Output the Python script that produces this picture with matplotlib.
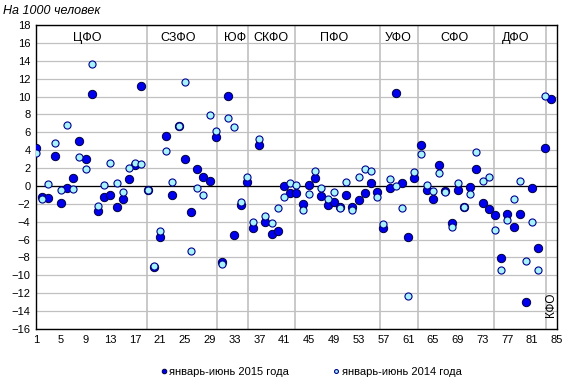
import matplotlib
matplotlib.use("Agg")
import matplotlib.pyplot as plt
import numpy as np

# 2015 (dark) and 2014 (light) values per region, index 1..85
jan_jun_2015 = [
    4.26, -1.2, -1.4, 3.34, -1.92, -0.22, 0.87, 5.0, 2.97, 10.33,
    -2.75, -1.27, -1.03, -2.38, -1.49, 0.78, 2.3, 11.22, -0.4, -9.05,
    -5.72, 5.64, -1.05, 6.72, 2.96, -2.94, 1.86, 0.98, 0.6, 5.42,
    -8.5, 10.07, -5.52, -2.12, 0.45, -4.72, 4.6, -3.98, -5.4, -5.02,
    -0.04, -0.82, -0.82, -2.03, 0.1, 0.85, -1.15, -2.12, -1.75, -2.4,
    -1.03, -2.4, -1.53, -0.82, 0.3, -0.73, -4.75, -0.18, 10.44, 0.38,
    -5.72, 0.85, 4.55, -0.4, -1.47, 2.3, -0.6, -4.09, -0.47, -2.33,
    -0.08, 1.89, -1.9, -2.61, -3.26, -8.07, -3.15, -4.61, -3.15, -12.95,
    -0.27, -6.95, 4.2, 9.75, np.nan,
]
jan_jun_2014 = [
    3.7, -1.45, 0.23, 4.8, -0.45, 6.8, -0.34, 3.27, 1.93, 13.62,
    -2.22, 0.12, 2.59, 0.36, -0.66, 2.04, 2.6, 2.47, -0.46, -8.92,
    -5.0, 3.93, 0.44, 6.74, 11.63, -7.23, -0.2, -0.97, 7.93, 6.16,
    -8.68, 7.6, 6.61, -1.76, 1.03, -3.98, 5.27, -3.32, -4.2, -2.42,
    -1.2, 0.36, 0.16, -2.65, -0.88, 1.68, -0.18, -1.42, -0.64, -2.42,
    0.44, -2.65, 1.03, 1.89, 1.72, -1.2, -4.22, 0.77, -0.06, -2.42,
    -12.35, 1.57, 3.57, 0.12, -0.53, 1.46, -0.64, -4.62, 0.36, -2.33,
    -0.9, 3.8, 0.6, 1.05, -4.89, -9.4, -3.8, -1.45, 0.55, -8.4,
    -4.07, -9.4, 10.07, np.nan, np.nan,
]
region_no = np.arange(1, len(jan_jun_2015) + 1)

district_names = ["ЦФО", "СЗФО", "ЮФ", "СКФО", "ПФО", "УФО", "СФО", "ДФО"]
district_label_x = [9.2, 23.9, 33.1, 38.8, 49.0, 59.3, 68.4, 78.4]
district_borders = [18.9, 30.2, 35.2, 42.7, 56.5, 62.6, 74.8, 83.3]

plt.rcParams['font.family'] = ['Liberation Sans', 'DejaVu Sans']

fig = plt.figure(figsize=(5.65, 3.87), dpi=100)
ax = fig.add_axes([36 / 565, 1 - 329 / 387, 521 / 565, 304 / 387])

ax.set_xlim(1, 85)
ax.set_ylim(-16, 18)
ax.set_xticks(range(1, 86, 4))
ax.set_yticks(range(-16, 19, 2))
ax.tick_params(length=0, labelsize=8, pad=4)
for s in ax.spines.values():
    s.set_color('black')
    s.set_linewidth(1.0)

ax.yaxis.grid(True, color='#c0c0c0', linewidth=0.9)
ax.set_axisbelow(True)
ax.axhline(0, color='black', linewidth=0.9, zorder=1)
for b in district_borders:
    ax.axvline(b, color='#c0c0c0', linewidth=1.2, zorder=0.5)

ax.plot(region_no, jan_jun_2015, linestyle='none', marker='o', markersize=6.0,
        markerfacecolor='#0000ee', markeredgecolor='#000040', markeredgewidth=0.7,
        zorder=3, label='январь-июнь 2015 года')
ax.plot(region_no, jan_jun_2014, linestyle='none', marker='o', markersize=5.1,
        markerfacecolor='#a6f2ff', markeredgecolor='#00008b', markeredgewidth=0.8,
        zorder=4, label='январь-июнь 2014 года')

for name, x in zip(district_names, district_label_x):
    ax.text(x, 16.6, name, ha='center', va='center', fontsize=9)
ax.text(84.1, -13.3, "КФО", rotation=90, ha='center', va='center', fontsize=8.5)

fig.text(3 / 565, 1 - 11 / 387, "На 1000 человек", fontsize=9, style='italic',
         ha='left', va='center')

fig.legend(loc='center', bbox_to_anchor=(311 / 565, 1 - 372 / 387), ncol=2,
           frameon=False, fontsize=8, markerscale=0.55, handlelength=0.6,
           handletextpad=0.2, columnspacing=3.9)

fig.savefig("out.png", dpi=100)
plt.close(fig)
